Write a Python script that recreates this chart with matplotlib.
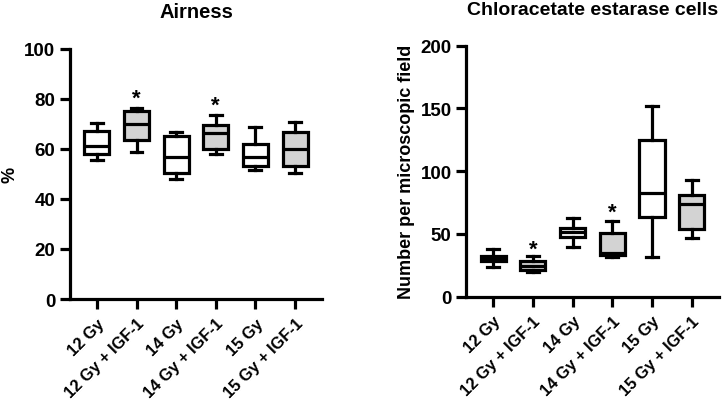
import matplotlib
matplotlib.use("Agg")
import matplotlib.pyplot as plt

plt.rcParams["font.family"] = ["Liberation Sans", "DejaVu Sans"]
plt.rcParams["font.weight"] = "bold"

groups = ["12 Gy", "12 Gy + IGF-1", "14 Gy", "14 Gy + IGF-1", "15 Gy", "15 Gy + IGF-1"]
filled = [False, True, False, True, False, True]

# Airness (%): whisker low, Q1, median, Q3, whisker high
air_lo  = [55.4, 58.7, 48.0, 57.8, 51.4, 50.4]
air_q1  = [57.8, 63.5, 50.4, 59.8, 53.0, 53.0]
air_med = [61.2, 69.7, 56.8, 66.3, 56.6, 59.9]
air_q3  = [67.0, 74.9, 65.2, 69.5, 61.9, 66.7]
air_hi  = [70.3, 76.2, 66.8, 73.4, 68.8, 70.8]
air_star = [None, 80.0, None, 77.5, None, None]

# Chloracetate estarase cells (number per field)
ce_lo  = [23.2, 19.5, 39.6, 31.6, 31.9, 47.0]
ce_q1  = [28.2, 21.0, 47.5, 33.5, 63.7, 53.9]
ce_med = [30.0, 24.5, 51.5, 35.0, 82.4, 73.9]
ce_q3  = [32.0, 28.6, 55.0, 50.8, 124.6, 80.8]
ce_hi  = [38.0, 32.3, 62.6, 60.6, 151.7, 93.2]
ce_star = [None, 38.0, None, 67.0, None, None]

LW = 2.3
GREY = "#d3d3d3"


def panel(ax, lo, q1, med, q3, hi, stars, title, ylabel, ymax, ystep,
          title_size, label_size):
    stats = [dict(whislo=a, q1=b, med=c, q3=d, whishi=e, fliers=[])
             for a, b, c, d, e in zip(lo, q1, med, q3, hi)]
    pos = list(range(1, len(stats) + 1))
    bp = ax.bxp(stats, positions=pos, widths=0.63, patch_artist=True,
                showfliers=False,
                boxprops=dict(linewidth=LW, edgecolor="black"),
                whiskerprops=dict(linewidth=LW, color="black"),
                capprops=dict(linewidth=LW, color="black"),
                medianprops=dict(linewidth=LW, color="black"),
                capwidths=0.3)
    for patch, f in zip(bp["boxes"], filled):
        patch.set_facecolor(GREY if f else "white")
    for p, s in zip(pos, stars):
        if s is not None:
            ax.text(p, s, "*", ha="center", va="center", fontsize=16,
                    fontweight="bold")
    ax.set_xlim(0.32, 6.68)
    ax.set_ylim(0, ymax)
    ax.set_yticks(range(0, ymax + 1, ystep))
    ax.set_xticks(pos)
    ax.set_xticklabels(groups, rotation=45, ha="right",
                       rotation_mode="anchor", fontsize=11.8,
                       fontweight="bold")
    ax.spines[["top", "right"]].set_visible(False)
    ax.spines[["left", "bottom"]].set_linewidth(LW)
    ax.tick_params(axis="both", width=LW, length=7)
    ax.tick_params(axis="y", labelsize=13.5)
    ax.tick_params(axis="x", pad=5)
    ax.set_title(title, fontsize=title_size, fontweight="bold", pad=23)
    ax.set_ylabel(ylabel, fontsize=label_size, fontweight="bold")


fig = plt.figure(figsize=(7.26, 4.06), dpi=100)
ax1 = fig.add_axes([0.0964, 0.261, 0.3471, 0.617])
ax2 = fig.add_axes([0.642, 0.267, 0.348, 0.618])

panel(ax1, air_lo, air_q1, air_med, air_q3, air_hi, air_star,
      "Airness", "%", 100, 20, 14.5, 13)
panel(ax2, ce_lo, ce_q1, ce_med, ce_q3, ce_hi, ce_star,
      "Chloracetate estarase cells", "Number per microscopic field", 200, 50,
      14, 13)

fig.savefig("out.png", dpi=100)
